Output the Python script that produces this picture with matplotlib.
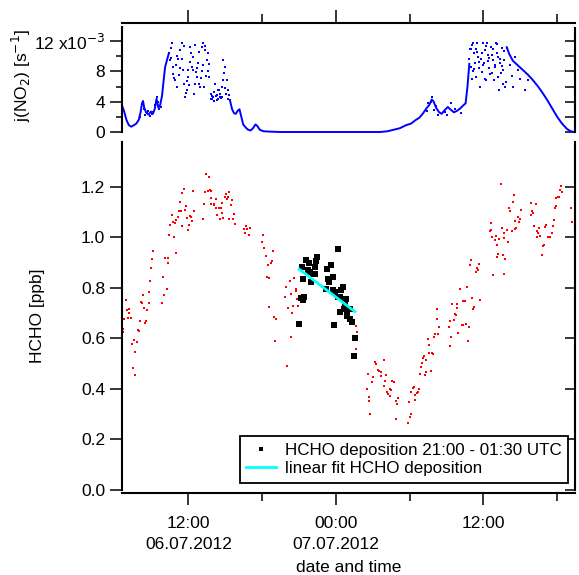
import matplotlib
matplotlib.use("Agg")
import matplotlib.pyplot as plt
from matplotlib.ticker import FixedLocator, FixedFormatter, NullFormatter

plt.rcParams['font.family'] = ['Liberation Sans', 'DejaVu Sans']
plt.rcParams['font.size'] = 12.5
FS = 12.5

# time axis in hours since 06.07.2012 00:00 UTC
t_min, t_max = 6.59, 43.45

# j(NO2) in 1e-3 s^-1 : smooth (clear sky) parts, drawn as line
jno2_line_t = [6.59, 6.75, 6.95, 7.15, 7.35, 7.55, 7.75, 7.95, 8.10, 8.22, 8.30, 8.40, 8.55, 8.75,
               8.95, 9.10, 9.25, 9.40, 9.55, 9.70, 9.85, 9.95, 10.10, 10.25, 10.40]
jno2_line_v = [3.5, 2.8, 1.6, 0.9, 0.7, 0.9, 1.1, 1.6, 2.6, 3.8, 4.1, 3.2, 2.6, 2.3,
               2.7, 2.4, 3.0, 4.4, 3.2, 3.6, 4.8, 6.4, 8.6, 9.5, 10.4]
jno2_eve_t = [15.40, 15.55, 15.70, 15.85, 16.00, 16.15, 16.30, 16.45, 16.65, 16.85, 17.05, 17.25,
              17.45, 17.60, 17.80, 18.10, 18.60, 19.50, 27.60, 28.20, 28.70, 29.20, 29.70, 30.10,
              30.50, 30.80, 31.10, 31.35, 31.60, 31.80, 31.95, 32.15, 32.40, 32.60, 32.85, 33.10,
              33.30, 33.60, 33.85, 34.10, 34.35, 34.55, 34.70, 34.85]
jno2_eve_v = [4.0, 3.0, 2.5, 2.4, 2.8, 3.0, 2.0, 1.0, 0.6, 0.3, 0.2, 0.5,
              1.0, 0.8, 0.3, 0.1, 0.05, 0.0, 0.0, 0.1, 0.3, 0.5, 0.9, 1.1,
              1.6, 1.9, 2.5, 3.1, 3.6, 4.3, 4.0, 3.2, 2.6, 2.4, 2.9, 3.3,
              3.0, 2.6, 2.8, 3.1, 3.5, 3.8, 6.0, 9.0]
jno2_pm_t = [37.9, 38.1, 38.4, 38.8, 39.2, 39.6, 40.0, 40.4, 40.8, 41.2, 41.6, 42.0, 42.4, 42.8,
             43.1, 43.37]
jno2_pm_v = [11.2, 10.3, 9.4, 8.8, 8.2, 7.6, 6.9, 6.1, 5.2, 4.2, 3.1, 2.0, 1.1, 0.4, 0.1, 0.0]

# j(NO2) scattered points (broken clouds)
jno2_sc_t = [8.05, 8.27, 8.6, 9.15, 9.41, 9.8, 8.35, 8.48, 8.70, 8.85, 9.00, 9.30, 9.50, 9.62,
             10.41, 10.49, 10.63, 10.77, 10.90, 11.04, 11.31,
             11.44, 11.53, 11.63, 11.72, 11.85, 11.99, 12.12, 12.20, 12.28, 12.39, 12.53, 12.66,
             12.80, 12.94, 13.07, 13.21, 13.34, 13.48, 13.61, 13.70, 13.80, 14.02, 14.16, 14.29,
             14.43, 14.56, 14.70, 14.83, 14.97, 15.11, 15.24, 15.38,
             10.55, 10.70, 10.95, 11.15, 11.25, 11.50, 11.78, 11.92, 12.05, 12.35, 12.45, 12.60,
             12.72, 12.88, 13.00, 13.15, 13.28, 13.42, 13.55, 13.90, 14.10, 14.35, 14.50, 14.65,
             14.78, 14.90, 15.05, 15.18,
             10.60, 10.85, 11.10, 11.35, 11.60, 11.88, 12.15, 12.50, 12.85, 13.10, 13.38, 13.65,
             13.85, 13.95, 14.05, 14.20, 14.40, 14.60, 14.75, 15.00, 15.30,
             31.5, 31.7, 32.0, 32.3, 32.9, 33.4, 31.4, 31.85, 32.1, 33.0, 33.7, 34.2,
             34.85, 34.96, 35.04, 35.12, 35.23, 35.31, 35.39, 35.45, 35.58, 35.66, 35.72, 35.85,
             35.94, 36.04, 36.13, 36.21, 36.26, 36.40, 36.48, 36.59, 36.67, 36.80, 36.88, 37.02,
             37.07, 37.21, 37.29, 37.35, 37.48, 37.56, 37.62, 37.75, 37.89, 38.16, 38.43, 38.84,
             39.38, 39.65,
             35.00, 35.18, 35.50, 35.78, 35.98, 36.10, 36.35, 36.55, 36.75, 36.95, 37.15, 37.42,
             37.70, 37.82,
             34.90, 35.08, 35.27, 35.42, 35.62, 35.90, 36.18, 36.44, 36.70, 36.92, 37.10, 37.38,
             37.52, 37.66, 38.30, 38.60, 39.00]
jno2_sc_v = [2.0, 4.0, 2.5, 2.7, 4.6, 3.3, 3.0, 2.2, 2.8, 2.1, 2.4, 3.6, 3.9, 3.0,
             10.38, 9.49, 11.70, 8.61, 6.84, 5.96, 10.82,
             11.70, 8.17, 6.40, 4.64, 5.52, 7.29, 11.26, 10.38, 8.61, 8.17, 6.40, 7.29,
             9.05, 5.96, 11.26, 11.70, 10.82, 9.49, 10.38, 7.29, 5.08, 4.64, 6.40, 4.20,
             5.52, 4.64, 5.96, 9.49, 8.61, 6.84, 5.52, 4.20,
             9.8, 7.6, 8.9, 9.6, 7.5, 9.7, 5.1, 8.2, 6.2, 9.9, 5.0, 7.9,
             8.4, 6.3, 7.1, 8.9, 6.0, 7.4, 8.0, 4.4, 5.3, 4.9, 5.6, 4.5,
             6.9, 7.8, 5.0, 4.3,
             11.1, 7.2, 10.1, 8.5, 11.4, 6.8, 9.2, 11.5, 10.6, 8.0, 11.3, 9.0,
             4.3, 4.8, 4.1, 4.7, 4.4, 5.0, 4.6, 5.8, 4.9,
             3.8, 4.0, 2.9, 2.3, 2.6, 3.8, 2.8, 4.6, 3.5, 2.2, 3.1, 2.5,
             9.71, 8.61, 7.06, 11.70, 10.38, 9.05, 7.29, 11.70, 9.93, 8.39, 5.96, 7.95,
             11.70, 9.05, 10.82, 6.84, 11.70, 10.16, 8.39, 11.26, 7.73, 9.49, 6.84, 11.70,
             10.38, 7.29, 5.52, 9.05, 11.04, 6.40, 8.17, 5.96, 11.04, 8.83, 5.96, 8.17,
             5.52, 6.84,
             10.9, 8.0, 10.6, 9.6, 8.9, 7.0, 9.4, 7.6, 10.9, 8.8, 9.9, 7.8,
             9.5, 6.6,
             11.0, 11.5, 8.3, 10.9, 9.2, 10.4, 11.4, 9.8, 10.2, 8.6, 11.6, 9.6,
             8.7, 10.7, 7.4, 9.9, 7.0]

# HCHO [ppb], full record
hcho_t = [13.42, 13.64, 11.63, 11.50, 12.34, 13.34, 13.59, 13.72, 13.80, 11.31, 11.80, 13.26,
          13.86, 14.26, 13.83, 14.10, 14.05, 14.73, 15.05, 15.27, 14.97, 15.19, 15.13, 15.54,
          15.49, 11.20, 11.39, 11.71, 12.42, 14.21, 14.48, 14.62, 14.70, 10.66, 11.15, 11.01,
          10.74, 10.87, 10.52, 11.88, 12.12, 12.23, 12.28, 12.01, 11.47, 11.93, 13.18, 14.35,
          14.56, 14.83, 15.32, 15.62, 15.70, 15.76, 16.68, 16.54, 16.76, 16.62, 16.98, 16.90,
          18.09, 18.01, 18.17, 18.31, 18.44, 18.69, 18.77, 18.36, 18.58, 18.52, 10.44, 10.79,
          9.11, 9.03, 8.95, 10.96, 10.09, 10.36, 10.30, 9.95, 8.89, 10.22, 10.01, 9.87,
          8.81, 8.32, 8.76, 8.11, 8.19, 8.41, 8.60, 6.91, 6.97, 7.13, 7.19, 6.75,
          7.05, 7.32, 8.03, 8.54, 8.46, 7.89, 7.97, 6.70, 6.64, 7.54, 7.84, 7.40,
          7.67, 7.48, 7.62,
          18.88, 18.93, 19.09, 19.01, 19.99, 20.34, 20.58, 20.23, 19.96, 20.72, 20.77, 20.31,
          19.85, 20.86, 20.91, 20.48, 20.10, 20.42,
          25.60, 25.74, 25.66, 27.15, 27.26, 27.88, 26.61, 27.01, 27.39, 27.53, 27.69, 28.04,
          27.64, 26.93, 27.99, 27.94, 28.56, 28.69, 26.50, 28.39, 28.50, 28.12, 28.21, 28.42,
          26.66, 26.71, 29.05, 28.86, 28.99, 26.80, 28.91, 29.83, 29.99, 30.08, 29.94, 30.13,
          30.46, 30.43, 30.57, 30.27, 30.35, 30.76, 30.67, 30.84, 31.22, 31.30, 30.97, 30.92,
          31.05, 31.19, 31.33, 31.54, 31.46, 31.60,
          37.40, 38.49, 38.40, 38.05, 38.13, 39.03, 38.81, 38.95, 38.57, 38.89, 38.67, 38.59,
          36.64, 36.53, 36.61, 37.48, 37.92, 38.32, 37.64, 36.69, 36.99, 37.26, 36.91, 37.07,
          37.70, 37.99, 37.21, 37.13, 37.56, 37.78, 36.78, 37.70, 35.01, 35.64, 34.88, 35.50,
          35.58, 35.39, 34.66, 34.09, 35.07, 35.72, 34.31, 34.47, 34.52, 33.47, 33.82, 33.87,
          35.26, 35.15, 33.66, 33.74, 32.19, 32.25, 33.30, 33.60, 34.25, 34.36, 34.58, 34.80,
          32.38, 33.17, 32.06, 32.33, 31.95, 33.95, 33.36, 33.25, 34.74, 31.81, 31.89, 31.76,
          39.89, 40.25, 39.84, 40.03, 39.92, 40.08, 40.52, 40.38, 40.46, 40.33, 40.60, 41.09,
          41.01, 40.84, 40.95, 40.74, 41.25, 41.44, 41.55, 41.66, 41.71, 41.79, 41.87, 41.93,
          42.06, 42.15, 42.20, 42.31, 42.39, 43.15, 43.20]
hcho_v = [1.252, 1.240, 1.193, 1.178, 1.184, 1.180, 1.184, 1.188, 1.184, 1.139, 1.125, 1.133,
          1.158, 1.153, 1.133, 1.134, 1.129, 1.135, 1.172, 1.180, 1.160, 1.159, 1.153, 1.149,
          1.129, 1.105, 1.105, 1.108, 1.105, 1.118, 1.118, 1.118, 1.098, 1.088, 1.081, 1.071,
          1.063, 1.056, 1.051, 1.079, 1.085, 1.080, 1.067, 1.050, 1.046, 1.030, 1.073, 1.089,
          1.073, 1.077, 1.073, 1.075, 1.091, 1.054, 1.046, 1.034, 1.032, 1.019, 1.036, 1.011,
          1.009, 0.981, 0.960, 0.926, 0.889, 0.898, 0.908, 0.844, 0.840, 0.726, 1.009, 1.002,
          0.948, 0.915, 0.881, 0.940, 0.919, 0.919, 0.898, 0.844, 0.829, 0.795, 0.771, 0.739,
          0.784, 0.774, 0.742, 0.746, 0.739, 0.722, 0.712, 0.753, 0.713, 0.717, 0.702, 0.677,
          0.681, 0.681, 0.668, 0.671, 0.661, 0.635, 0.630, 0.636, 0.626, 0.594, 0.588, 0.578,
          0.547, 0.482, 0.457,
          0.946, 0.685, 0.679, 0.591, 0.492, 0.607, 0.840, 0.826, 0.805, 0.796, 0.788, 0.778,
          0.764, 0.758, 0.730, 0.730, 0.719, 0.702,
          0.650, 0.626, 0.557, 0.508, 0.500, 0.514, 0.458, 0.448, 0.474, 0.471, 0.467, 0.457,
          0.450, 0.428, 0.430, 0.413, 0.430, 0.428, 0.400, 0.400, 0.396, 0.388, 0.382, 0.372,
          0.368, 0.354, 0.364, 0.354, 0.341, 0.302, 0.283, 0.265, 0.289, 0.300, 0.350, 0.387,
          0.358, 0.376, 0.383, 0.404, 0.408, 0.400, 0.389, 0.460, 0.455, 0.467, 0.503, 0.488,
          0.521, 0.531, 0.516, 0.544, 0.599, 0.576,
          1.212, 1.167, 1.139, 1.118, 1.105, 1.108, 1.081, 1.073, 1.067, 1.060, 1.039, 1.035,
          1.057, 1.026, 1.030, 1.036, 1.030, 1.026, 1.019, 1.002, 1.007, 0.994, 0.988, 0.970,
          0.998, 0.981, 0.936, 0.923, 0.932, 0.915, 0.850, 0.854, 0.912, 0.895, 0.889, 0.881,
          0.871, 0.863, 0.803, 0.796, 0.762, 0.751, 0.750, 0.750, 0.750, 0.737, 0.737, 0.720,
          0.723, 0.716, 0.698, 0.692, 0.717, 0.679, 0.671, 0.673, 0.655, 0.655, 0.658, 0.644,
          0.644, 0.644, 0.617, 0.617, 0.607, 0.623, 0.606, 0.572, 0.589, 0.543, 0.540, 0.470,
          1.135, 1.133, 1.088, 1.098, 1.105, 1.047, 1.039, 1.027, 1.019, 1.002, 1.006, 1.050,
          1.043, 0.968, 0.972, 0.929, 1.002, 1.002, 1.019, 1.046, 1.069, 1.118, 1.125, 1.157,
          1.160, 1.160, 1.188, 1.205, 1.180, 1.118, 1.061]

# HCHO deposition period 21:00 - 01:30 UTC
dep_t = [21.02, 21.21, 21.53, 21.81, 21.32, 21.70, 21.89, 22.10, 22.27, 21.94, 22.29, 22.37,
         22.46, 21.13, 21.43, 21.34, 24.19, 23.57, 23.30, 23.35, 23.43, 23.73, 23.21, 23.73,
         23.92, 24.14, 24.33, 24.41, 24.57, 24.84, 24.76, 24.63, 24.92, 25.14, 24.35, 24.92,
         25.14, 25.30, 23.84, 25.55, 25.49]
dep_v = [0.656, 0.883, 0.911, 0.900, 0.836, 0.871, 0.865, 0.854, 0.857, 0.825, 0.883, 0.907,
         0.923, 0.759, 0.764, 0.752, 0.954, 0.890, 0.875, 0.837, 0.825, 0.845, 0.797, 0.792,
         0.784, 0.766, 0.763, 0.793, 0.804, 0.755, 0.739, 0.718, 0.714, 0.716, 0.704, 0.690,
         0.676, 0.664, 0.652, 0.602, 0.529]

fit_t = [21.0, 25.55]
fit_v = [0.875, 0.706]

major_t = [12, 24, 36]
minor_t = [18, 30, 42]
major_lbl = ['12:00\n06.07.2012', '00:00\n07.07.2012', '12:00']

W, H = 579, 575
fig = plt.figure(figsize=(W / 100, H / 100), dpi=100)
x0 = 122 / W
wd = (575 - 122) / W

def frac(top, bottom):
    return [x0, 1 - bottom / H, wd, (bottom - top) / H]

lw_sp = 1.5

def inward_right(ax, ticks):
    # right axis ticks point into the plot
    for tk in ticks:
        tk.tick2line.set_marker(0)
        tk.tick2line.set_markersize(7)
        tk.tick2line.set_markeredgewidth(1.1)

# ---------- top panel ----------
ax1 = fig.add_axes(frac(23, 132))
ax1.plot(jno2_line_t, jno2_line_v, color='blue', lw=1.4, clip_on=False)
ax1.plot(jno2_eve_t, jno2_eve_v, color='blue', lw=1.4, clip_on=False)
ax1.plot(jno2_pm_t, jno2_pm_v, color='blue', lw=1.4, clip_on=False)
ax1.plot(jno2_sc_t, jno2_sc_v, ls='none', marker='s', ms=1.6, mew=0, color='blue', clip_on=False)
ax1.set_xlim(t_min, t_max)
ax1.set_ylim(0, 14.4)
ax1.spines['bottom'].set_visible(False)
ax1.spines['left'].set_bounds(0, 13.85)
ax1.spines['right'].set_bounds(0, 13.75)
ax1.spines['top'].set_visible(True)
ax1.spines['top'].set_color('black')
ax1.spines['top'].set_zorder(5)
for s in ['left', 'right', 'top']:
    ax1.spines[s].set_linewidth(lw_sp)
ax1.xaxis.set_ticks_position('top')
ax1.xaxis.set_major_locator(FixedLocator(major_t))
ax1.xaxis.set_minor_locator(FixedLocator(minor_t))
ax1.xaxis.set_major_formatter(NullFormatter())
ax1.tick_params(axis='x', which='major', direction='out', length=9.5, width=1.1)
ax1.tick_params(axis='x', which='minor', direction='out', length=6.5, width=1.1)
ax1.yaxis.set_major_locator(FixedLocator([0, 4, 8, 12]))
ax1.yaxis.set_minor_locator(FixedLocator([2, 6, 10]))
ax1.yaxis.set_major_formatter(FixedFormatter(['0', '4', '8', '12 x10$^{-3}$']))
ax1.tick_params(axis='y', which='major', direction='out', length=8.5, width=1.1, labelsize=FS, right=True)
ax1.tick_params(axis='y', which='minor', direction='out', length=4.5, width=1.1, right=True)
ax1.set_ylabel('j(NO$_2$) [s$^{-1}$]', fontsize=FS)
ax1.yaxis.set_label_coords(-0.197, 0.52)
inward_right(ax1, ax1.yaxis.get_major_ticks() + ax1.yaxis.get_minor_ticks())

# ---------- lower panel ----------
ax2 = fig.add_axes(frac(142, 490))
ax2.plot(hcho_t, hcho_v, ls='none', marker='s', ms=2.1, mew=0, color='red')
ax2.plot(dep_t, dep_v, ls='none', marker='s', ms=4, mew=0, color='black',
         label='HCHO deposition 21:00 - 01:30 UTC')
ax2.plot(fit_t, fit_v, color='cyan', lw=2, label='linear fit HCHO deposition')
ax2.set_xlim(t_min, t_max)
ax2.set_ylim(0, 1.378)
ax2.spines['top'].set_visible(False)
ax2.spines['bottom'].set_position(('outward', 2.5))
for s in ['left', 'right', 'bottom']:
    ax2.spines[s].set_linewidth(lw_sp)
ax2.xaxis.set_major_locator(FixedLocator(major_t))
ax2.xaxis.set_minor_locator(FixedLocator(minor_t))
ax2.xaxis.set_major_formatter(FixedFormatter(major_lbl))
ax2.tick_params(axis='x', which='major', direction='out', length=8.5, width=1.1, labelsize=FS, pad=8)
ax2.tick_params(axis='x', which='minor', direction='out', length=5.5, width=1.1)
for lbl in ax2.get_xticklabels():
    lbl.set_linespacing(1.45)
ax2.yaxis.set_major_locator(FixedLocator([0, 0.2, 0.4, 0.6, 0.8, 1.0, 1.2]))
ax2.yaxis.set_major_formatter(FixedFormatter(['0.0', '0.2', '0.4', '0.6', '0.8', '1.0', '1.2']))
ax2.tick_params(axis='y', which='major', direction='out', length=8.5, width=1.1, labelsize=FS, right=True)
inward_right(ax2, ax2.yaxis.get_major_ticks())
ax2.set_ylabel('HCHO [ppb]', fontsize=FS)
ax2.yaxis.set_label_coords(-0.17, 0.5)
ax2.set_xlabel('date and time', fontsize=FS, labelpad=6)

leg = ax2.legend(loc='lower right', bbox_to_anchor=(0.985, 0.02), borderaxespad=0,
                 fancybox=False, edgecolor='black', framealpha=1, fontsize=12.25,
                 handlelength=1.75, handletextpad=0.5, borderpad=0.4, labelspacing=0.2,
                 markerscale=0.6)
leg.get_frame().set_linewidth(1.3)

fig.savefig('out.png', dpi=100)
